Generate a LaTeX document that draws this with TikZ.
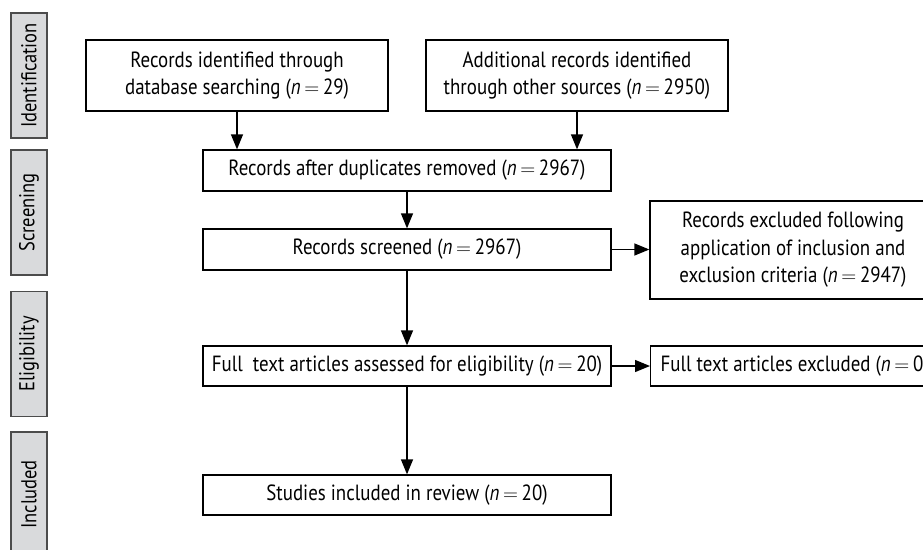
\documentclass[tikz,border=0pt]{standalone}
\usepackage{fontspec}
\setmainfont{PT Sans}[FakeStretch=0.86]
\usetikzlibrary{arrows.meta}

\definecolor{stagegray}{HTML}{D9DADC}

\tikzset{
  stage/.style={draw=black!70, fill=stagegray, line width=1.2pt, rotate=90,
    minimum width=125pt, minimum height=36pt, inner sep=0pt,
    font=\fontsize{21.5}{24}\selectfont},
  flowbox/.style={draw, line width=1.3pt, align=center, inner sep=0pt,
    font=\fontsize{22}{27.5}\selectfont},
  flow/.style={-{Triangle[length=15pt,width=12pt]}, line width=1.3pt},
}

\newcommand{\nis}[1]{(\textit{n}\,$=$\,#1)}

\begin{document}
\begin{tikzpicture}[x=1pt,y=-1pt]
  \useasboundingbox (0,0) rectangle (923,549);

  % stages on the left
  \node[stage] (ident) at (29,75.5) {Identification};
  \node[stage] (screening) at (29,212.5) {Screening};
  \node[stage] (elig) at (29,354) {Eligibility};
  \node[stage] (inclst) at (29,494.5) {Included};

  % boxes
  \node[flowbox, minimum width=302pt, minimum height=71pt] (dbrec) at (237,75.5)
    {Records identified through\\database searching \nis{29}};
  \node[flowbox, minimum width=302pt, minimum height=71pt] (otherrec) at (577,75.5)
    {Additional records identified\\through other sources \nis{2950}};
  \node[flowbox, minimum width=408pt, minimum height=41pt] (dupl) at (407,170.5)
    {Records after duplicates removed \nis{2967}};
  \node[flowbox, minimum width=408pt, minimum height=41pt] (screen) at (407,249.5)
    {Records screened \nis{2967}};
  \node[flowbox, minimum width=286pt, minimum height=98pt] (excl) at (793,250)
    {Records excluded following\\application of inclusion and\\exclusion criteria \nis{2947}};
  \node[flowbox, minimum width=408pt, minimum height=40pt] (fulltext) at (407,366)
    {Full~ text articles assessed for eligibility \nis{20}};
  \node[flowbox, minimum width=286pt, minimum height=40pt, anchor=west, inner xsep=10pt,
    align=left] (fullexcl) at (650,366)
    {Full text articles excluded \nis{0}};
  \node[flowbox, minimum width=408pt, minimum height=40pt] (studies) at (407,495)
    {Studies included in review \nis{20}};

  % arrows
  \draw[flow] (dbrec.south) -- (dbrec.south |- dupl.north);
  \draw[flow] (otherrec.south) -- (otherrec.south |- dupl.north);
  \draw[flow] (dupl) -- (screen);
  \draw[flow] (screen.east) -- (screen.east -| excl.west);
  \draw[flow] (screen) -- (fulltext);
  \draw[flow] (fulltext) -- (fullexcl);
  \draw[flow] (fulltext) -- (studies);
\end{tikzpicture}
\end{document}
